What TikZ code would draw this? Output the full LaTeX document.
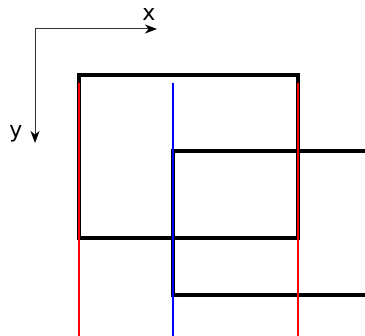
\documentclass[tikz,border=0pt]{standalone}
\usepackage{fontspec}
\setmainfont{DejaVu Sans}
\usetikzlibrary{arrows.meta}
\begin{document}
\begin{tikzpicture}[x=1pt,y=-1pt,
  axis/.style={draw=black!80,line width=1pt,-{Stealth[length=12pt,width=9pt,inset=3.5pt,black]}},
  frame/.style={draw=black,line width=3.6pt,line join=miter},
  redline/.style={draw=red,line width=2.6pt},
  blueline/.style={draw=blue,line width=2.2pt},
  lbl/.style={font=\fontsize{22}{22}\selectfont,inner sep=0pt,anchor=base}]
\useasboundingbox (0,0) rectangle (365,336);
% axes
\coordinate (o) at (35,29);
\coordinate (xe) at (157,29);
\coordinate (ye) at (35,143);
\draw[axis] (o) -- (xe);
\draw[axis] (o) -- (ye);
\node[lbl] (xl) at (149,21) {x};
\node[lbl] (yl) at (16,138) {y};
% frames
\coordinate (a1) at (79,75);
\coordinate (a2) at (298,238);
\draw[frame] (a1) rectangle (a2);
\coordinate (b1) at (365,151);
\coordinate (b2) at (173,151);
\coordinate (b3) at (173,295);
\coordinate (b4) at (365,295);
\draw[frame] (b1) -- (b2) -- (b3) -- (b4);
% coloured lines
\coordinate (r1t) at (79,83);
\coordinate (r1b) at (79,336);
\coordinate (r2t) at (298,83);
\coordinate (r2b) at (298,336);
\coordinate (bt) at (173,83);
\coordinate (bb) at (173,336);
\draw[redline] (r1t) -- (r1b);
\draw[redline] (r2t) -- (r2b);
\draw[blueline] (bt) -- (bb);
\end{tikzpicture}
\end{document}
